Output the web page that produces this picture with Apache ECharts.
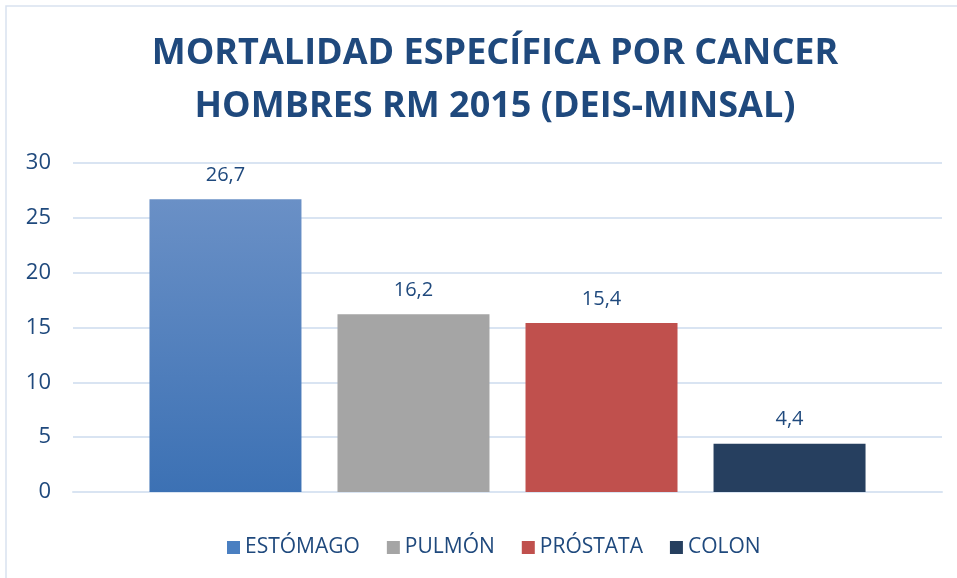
<!DOCTYPE html>
<html><head><meta charset="utf-8">
<script src="https://cdn.jsdelivr.net/npm/echarts@6/dist/echarts.min.js"></script>
<style>html,body{margin:0;padding:0;background:#fff}#c{width:957px;height:578px}</style>
</head><body><div id="c"></div>
<script>
var titleLines = ['MORTALIDAD ESPECÍFICA POR CANCER', 'HOMBRES RM 2015 (DEIS-MINSAL)'];
var categories = ['Total'];
var seriesNames = ['ESTÓMAGO', 'PULMÓN', 'PRÓSTATA', 'COLON'];
var seriesValues = [26.7, 16.2, 15.4, 4.4];
var yTicks = [0, 5, 10, 15, 20, 25, 30];

var txt = '#1F497D';
var colors = [
  new echarts.graphic.LinearGradient(0,0,0,1,[{offset:0,color:'#6A90C6'},{offset:1,color:'#3C71B4'}]),
  '#A5A5A5', '#C0504D', '#263F5F'
];
var legendColors = ['#4A7FC1','#A5A5A5','#C0504D','#263F5F'];

var chart = echarts.init(document.getElementById('c'), null, {renderer:'canvas'});
var series = seriesNames.map(function(n,i){
  return {
    name:n, type:'bar', data:[seriesValues[i]], barWidth:152, barGap:'23.7%',
    itemStyle:{color:colors[i]},
    label:{show:true, position:'top', distance:14, color:txt, fontSize:20, fontFamily:'Open Sans',
      formatter:function(p){return String(p.value).replace('.',',');}}
  };
});
chart.setOption({
  animation:false,
  graphic:[{type:'rect', shape:{x:6,y:6,width:960,height:580}, style:{fill:'none', stroke:'#D9E2EF', lineWidth:1.5}, silent:true}],
  title:{text:titleLines.join('\n'), left:490, textAlign:'center', top:22,
    textStyle:{color:txt, fontSize:36, fontWeight:'bold', fontFamily:'Open Sans', lineHeight:53}},
  legend:{top:532, left:222, itemWidth:13, itemHeight:13, itemGap:27, icon:'rect',
    textStyle:{color:txt, fontSize:21, fontFamily:'Open Sans'},
    data:seriesNames.map(function(n,i){return {name:n, itemStyle:{color:legendColors[i]}};})},
  grid:{left:73, right:15, top:163, bottom:86},
  xAxis:{type:'category', data:categories, axisLine:{show:true, lineStyle:{color:'#D9E4F2', width:2}}, axisTick:{show:false}, axisLabel:{show:false}},
  yAxis:{type:'value', min:yTicks[0], max:yTicks[yTicks.length-1], interval:5,
    axisLine:{show:false}, axisTick:{show:false},
    axisLabel:{color:txt, fontSize:22, fontFamily:'Open Sans', margin:22},
    splitLine:{lineStyle:{color:'#D9E4F2', width:2}}},
  series:series
});
</script></body></html>
